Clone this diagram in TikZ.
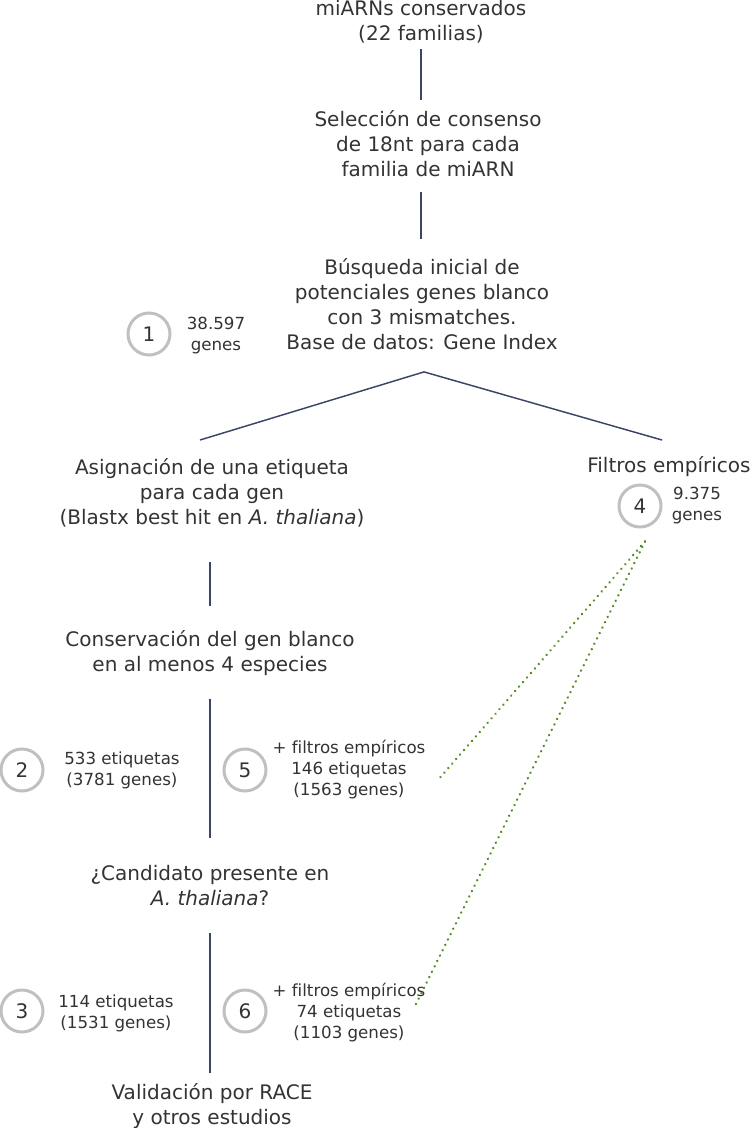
\documentclass[tikz,border=0pt]{standalone}
\usepackage{fontspec}
\setmainfont{DejaVu Sans}[Ligatures=NoCommon]
\usepackage{xcolor}
\usetikzlibrary{calc}

\definecolor{txtgray}{RGB}{51,51,51}
\definecolor{linkblue}{RGB}{58,70,100}
\definecolor{ringgray}{RGB}{192,192,192}
\definecolor{dotgreen}{RGB}{84,140,36}

\begin{document}
\begin{tikzpicture}[x=0.75pt, y=-0.75pt,
    txt/.style = {align=center, inner sep=0pt, text=txtgray, font=\fontsize{15}{18.75}\selectfont},
    small/.style = {align=center, inner sep=0pt, text=txtgray, font=\fontsize{12.5}{15.75}\selectfont},
    ring/.style = {draw=ringgray, line width=2.25pt, circle, minimum size=31.5pt, inner sep=0pt, text=txtgray, font=\fontsize{15}{18}\selectfont},
    link/.style = {draw=linkblue, line width=1.1pt},
    dots/.style = {draw=dotgreen, line width=1.9pt, line cap=round, dash pattern=on 0.1pt off 4.4pt}]
    \useasboundingbox (0,0) rectangle (750,1128);

    \node[txt] (mir) at (421,22) {miARNs conservados\\(22 familias)};
    \node[txt] (sel) at (428,144) {Selección de consenso\\de 18nt para cada\\familia de miARN};
    \node[txt] (bus) at (422,304) {Búsqueda inicial de\\potenciales genes blanco\\con 3 mismatches.\\Base de datos: Gene Index};
    \node[txt] (asig) at (212,493) {Asignación de una etiqueta\\para cada gen\\(Blastx best hit en \textit{A. thaliana})};
    \node[txt] (filt) at (669,467) {Filtros empíricos};
    \node[txt] (cons) at (210,653) {Conservación del gen blanco\\en al menos 4 especies};
    \node[txt] (cand) at (210,886) {¿Candidato presente en\\\textit{A. thaliana}?};
    \node[txt] (val) at (212,1106) {Validación por RACE\\y otros estudios};

    \node[ring] (c1) at (149,334) {1};
    \node[small] (n1) at (216,335.5) {38.597\\genes};
    \node[ring] (c4) at (640,506) {4};
    \node[small] (n4) at (697,506) {9.375\\genes};
    \node[ring] (c2) at (22,770) {2};
    \node[small] (n2) at (122,770) {533 etiquetas\\(3781 genes)};
    \node[ring] (c5) at (245,770) {5};
    \node[small] (n5) at (349,770) {+ filtros empíricos\\146 etiquetas\\(1563 genes)};
    \node[ring] (c3) at (22,1011) {3};
    \node[small] (n3) at (116,1013) {114 etiquetas\\(1531 genes)};
    \node[ring] (c6) at (245,1011) {6};
    \node[small] (n6) at (349,1013) {+ filtros empíricos\\74 etiquetas\\(1103 genes)};

    \coordinate (split) at ($(bus.south)+(2,22)$);
    \coordinate (left) at (200,440);
    \coordinate (right) at (662,440);
    \coordinate (end5) at (438,780);
    \coordinate (end6) at (414,1008);

    \draw[link, shorten <=4, shorten >=8] (mir.south) -- (mir.south |- sel.north);
    \draw[link, shorten <=11, shorten >=14] (mir.south |- sel.south) -- (mir.south |- bus.north);
    \draw[link] (split) -- (left);
    \draw[link] (split) -- (right);
    \draw[link, shorten <=26, shorten >=18] (cons.north |- asig.south) -- (cons.north);
    \draw[link, shorten <=17, shorten >=21] (cons.south) -- (cons.south |- cand.north);
    \draw[link, shorten <=20, shorten >=8] (cand.south) -- (cand.south |- val.north);

    % dotted links from the empirical filters
    \draw[dots] (c4.south) ++(5,13) -- (end5);
    \draw[dots] (c4.south) ++(5,13) -- (end6);
\end{tikzpicture}
\end{document}
